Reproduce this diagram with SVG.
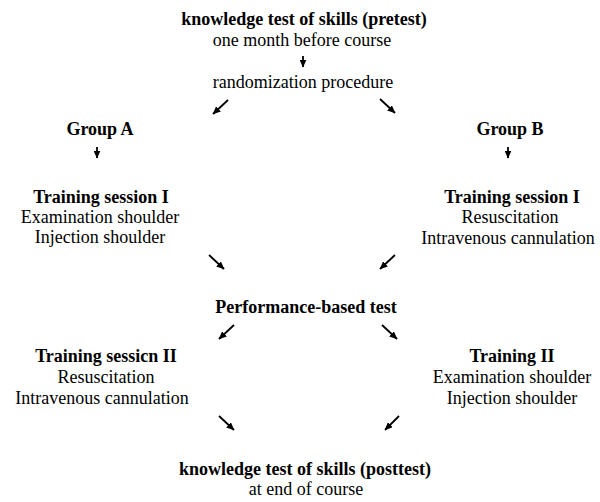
<svg xmlns="http://www.w3.org/2000/svg" width="600" height="502" viewBox="0 0 600 502">
  <defs>
    <style>
      text { font-family: "Liberation Serif", "Times New Roman", serif; font-size: 18px; fill: #000; text-anchor: middle; }
      .b { font-weight: bold; }
      .arr { stroke: #000; stroke-width: 1.8; fill: none; marker-end: url(#head); }
    </style>
    <marker id="head" viewBox="0 0 8 7" refX="7.5" refY="3.5" markerWidth="8" markerHeight="7" markerUnits="userSpaceOnUse" orient="auto">
      <path d="M0,0 L8,3.5 L0,7 z" fill="#000"/>
    </marker>
  </defs>
  <rect width="600" height="502" fill="#fff"/>

  <g id="pretest">
    <text class="b" x="304" y="25">knowledge test of skills (pretest)</text>
    <text x="302" y="46">one month before course</text>
  </g>
  <g id="randomization">
    <text x="303" y="88">randomization procedure</text>
  </g>
  <g id="group-a">
    <text class="b" x="100" y="135">Group A</text>
  </g>
  <g id="group-b">
    <text class="b" x="510" y="135">Group B</text>
  </g>
  <g id="session1-a">
    <text class="b" x="101" y="203">Training session I</text>
    <text x="100" y="223">Examination shoulder</text>
    <text x="100" y="243">Injection shoulder</text>
  </g>
  <g id="session1-b">
    <text class="b" x="512" y="203">Training session I</text>
    <text x="510" y="223">Resuscitation</text>
    <text x="508" y="244">Intravenous cannulation</text>
  </g>
  <g id="performance">
    <text class="b" x="306" y="313">Performance-based test</text>
  </g>
  <g id="session2-a">
    <text class="b" x="106" y="362">Training sessicn II</text>
    <text x="106" y="383">Resuscitation</text>
    <text x="102" y="404">Intravenous cannulation</text>
  </g>
  <g id="session2-b">
    <text class="b" x="512" y="362">Training II</text>
    <text x="512" y="383">Examination shoulder</text>
    <text x="512" y="404">Injection shoulder</text>
  </g>
  <g id="posttest">
    <text class="b" x="305" y="475">knowledge test of skills (posttest)</text>
    <text x="306" y="495">at end of course</text>
  </g>

  <g id="connectors">
    <path class="arr" d="M303,56 L303,67"/>
    <path class="arr" d="M228,100 L213,114"/>
    <path class="arr" d="M380,99 L395,113"/>
    <path class="arr" d="M97,147 L97,158"/>
    <path class="arr" d="M508,147 L508,158"/>
    <path class="arr" d="M209,255 L224,269"/>
    <path class="arr" d="M395,255 L380,269"/>
    <path class="arr" d="M234,325 L219,339"/>
    <path class="arr" d="M382,325 L397,339"/>
    <path class="arr" d="M219,416 L234,430"/>
    <path class="arr" d="M399,416 L385,430"/>
  </g>
</svg>
